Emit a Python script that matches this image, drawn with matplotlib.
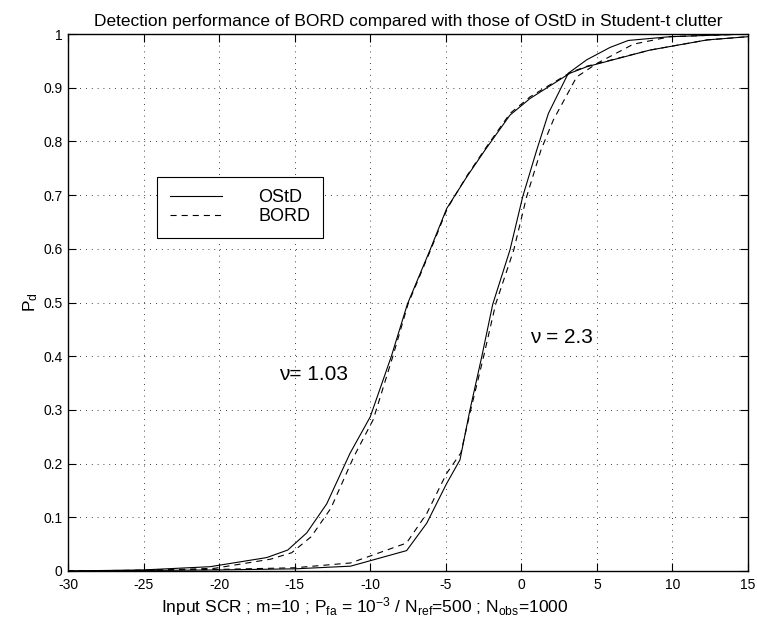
import matplotlib
matplotlib.use("Agg")
import matplotlib.pyplot as plt

plt.rcParams['font.family'] = ['Liberation Sans', 'DejaVu Sans']
plt.rcParams['mathtext.fontset'] = 'custom'
plt.rcParams['mathtext.rm'] = 'Liberation Sans'
plt.rcParams['mathtext.it'] = 'Liberation Sans'
plt.rcParams['mathtext.bf'] = 'Liberation Sans'

# nu = 1.03
x_osd_103 = [-30, -25, -20.6, -16.85, -15.46, -14.2, -12.88, -11.34, -10.0, -8.6, -7.54,
             -6.04, -4.94, -3.61, -2.4, -0.75, 0.58, 3.22, 4.33, 8.5, 12.3, 15]
y_osd_103 = [0.0, 0.002, 0.008, 0.025, 0.039, 0.071, 0.125, 0.219, 0.287, 0.40, 0.497,
             0.598, 0.675, 0.734, 0.784, 0.849, 0.88, 0.927, 0.939, 0.97, 0.989, 0.995]
x_bord_103 = [-30, -25, -20.3, -16.6, -15.2, -13.9, -12.6, -11.1, -9.8, -8.5, -7.5,
              -6.0, -4.9, -3.6, -2.4, -0.75, 0.58, 3.22, 4.33, 8.5, 12.3, 15]
y_bord_103 = [0.0, 0.001, 0.005, 0.022, 0.034, 0.064, 0.117, 0.212, 0.282, 0.40, 0.497,
              0.598, 0.675, 0.736, 0.786, 0.852, 0.883, 0.928, 0.94, 0.97, 0.989, 0.995]

# nu = 2.3
x_osd_23 = [-30, -20, -15, -11.3, -7.59, -6.26, -4.94, -4.06, -3.4, -2.62, -1.89,
            -0.75, 0.09, 1.02, 1.79, 3.11, 4.33, 5.87, 7.08, 9.85, 15]
y_osd_23 = [0.0, 0.002, 0.004, 0.009, 0.038, 0.089, 0.163, 0.207, 0.30, 0.399, 0.497,
            0.598, 0.697, 0.784, 0.852, 0.927, 0.952, 0.975, 0.988, 0.995, 1.0]
x_bord_23 = [-30, -20, -15, -11.3, -7.6, -6.26, -4.94, -4.0, -3.35, -2.5, -1.7,
             -0.5, 0.35, 1.3, 2.12, 3.66, 4.99, 7.41, 9.85, 15]
y_bord_23 = [0.0, 0.003, 0.006, 0.015, 0.052, 0.107, 0.182, 0.22, 0.30, 0.399, 0.497,
             0.598, 0.697, 0.784, 0.84, 0.92, 0.945, 0.981, 0.995, 1.0]

x_ticks = [-30, -25, -20, -15, -10, -5, 0, 5, 10, 15]
y_ticks = [0, 0.1, 0.2, 0.3, 0.4, 0.5, 0.6, 0.7, 0.8, 0.9, 1]
y_ticklabels = ['0', '0.1', '0.2', '0.3', '0.4', '0.5', '0.6', '0.7', '0.8', '0.9', '1']

fig = plt.figure(figsize=(7.57, 6.23), dpi=100)
ax = fig.add_axes([68/757, 52/623, 680/757, 537/623])

lw = 0.8
dash = (0, (5.5, 4.5))
l1, = ax.plot(x_osd_103, y_osd_103, color='black', lw=lw, label='OStD')
l2, = ax.plot(x_bord_103, y_bord_103, color='black', lw=lw, linestyle=dash, label='BORD')
ax.plot(x_osd_23, y_osd_23, color='black', lw=lw)
ax.plot(x_bord_23, y_bord_23, color='black', lw=lw, linestyle=dash)

ax.set_xlim(-30, 15)
ax.set_ylim(0, 1)
ax.set_xticks(x_ticks)
ax.set_xticklabels([str(t) for t in x_ticks])
ax.set_yticks(y_ticks)
ax.set_yticklabels(y_ticklabels)
ax.tick_params(direction='in', top=True, right=True, length=6, width=0.8,
               labelsize=10)
ax.tick_params(axis='x', pad=5)
ax.tick_params(axis='y', pad=4)
ax.grid(True, color='black', linestyle=(0, (1, 6)), linewidth=0.6)
for s in ax.spines.values():
    s.set_linewidth(1.0)

ax.set_title('Detection performance of BORD compared with those of OStD in Student-t clutter',
             fontsize=12.5, pad=5.8)
fig.text(161/757, 1 - 612/623,
         r'Input SCR ; m=10 ; P$_{\mathrm{fa}}$ = 10$^{\mathrm{-3}}$ / N$_{\mathrm{ref}}$=500 ; N$_{\mathrm{obs}}$=1000',
         fontsize=12.5, ha='left', va='baseline')
ax.set_ylabel(r'P$_{\mathrm{d}}$', fontsize=12.5, labelpad=2)

ax.text(-16.0, 0.365, 'ν= 1.03', fontsize=15, va='center', ha='left')
ax.text(0.58, 0.434, 'ν = 2.3', fontsize=15, va='center', ha='left')

leg = ax.legend(handles=[l1, l2], loc='upper left', bbox_to_anchor=(0.131, 0.734),
                borderaxespad=0, fancybox=False, framealpha=1, edgecolor='black',
                fontsize=13, handlelength=2.9, handletextpad=2.0, labelspacing=0.1,
                borderpad=0.7)
leg.get_frame().set_linewidth(0.8)

fig.savefig('out.png', dpi=100)
